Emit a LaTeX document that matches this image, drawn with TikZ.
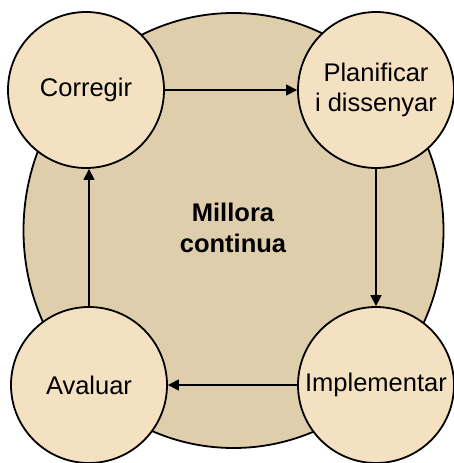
\documentclass[tikz,border=0pt]{standalone}
\usepackage{fontspec}
\setmainfont{Liberation Sans}
\usetikzlibrary{arrows.meta}
\definecolor{outerfill}{RGB}{223,206,172}
\definecolor{stagefill}{RGB}{244,225,193}
\tikzset{
  stage/.style={circle, draw=black, line width=1.8pt, fill=stagefill,
    minimum size=156pt, inner sep=0pt, align=center,
    font=\fontsize{25.5}{30}\selectfont},
  flow/.style={line width=1.4pt, -{Triangle[length=11pt,width=11pt]}}
}
\begin{document}
\begin{tikzpicture}[x=1pt,y=-1pt]
  \useasboundingbox (0,0) rectangle (454,463);
  % outer cycle disc
  \draw[line width=1.8pt, fill=outerfill] (233.5,230.5) ellipse [x radius=210pt, y radius=217.5pt];
  \node[font=\bfseries\fontsize{25.5}{31}\selectfont, align=center] (centre) at (233,228) {Millora\\continua};
  % the four stages
  \node[stage] (corr) at (86,90) {Corregir};
  \node[stage] (plan) at (376,90) {Planificar\\i dissenyar};
  \node[stage] (impl) at (376,385) {Implementar};
  \node[stage] (aval) at (89,385) {Avaluar};
  % cycle connectors
  \draw[flow] (corr) -- (plan);
  \draw[flow] (plan) -- (impl);
  \draw[flow] (impl) -- (aval);
  \draw[flow] (aval) -- (aval |- corr.south);
\end{tikzpicture}
\end{document}
